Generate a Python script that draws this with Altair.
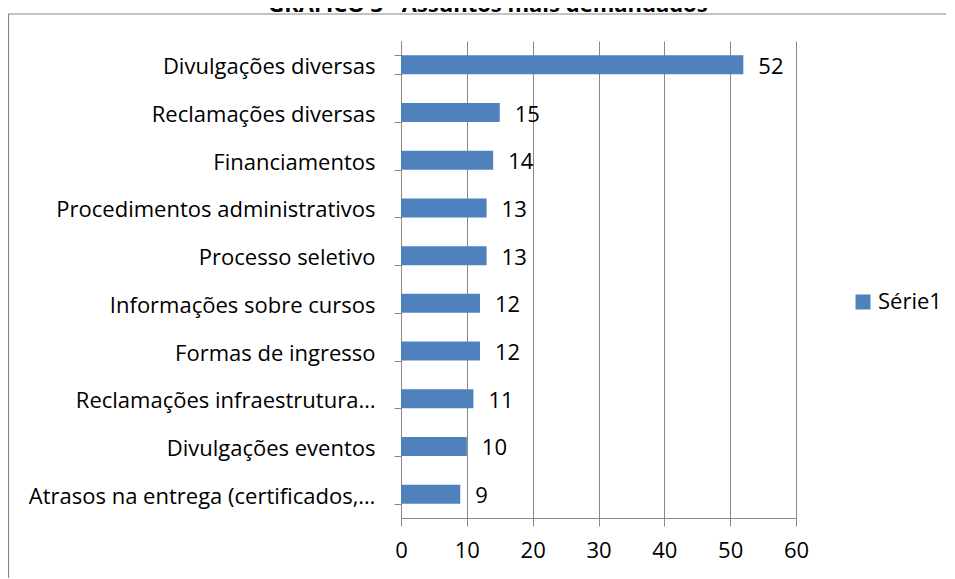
import altair as alt
import pandas as pd

TITLE = "GRÁFICO 3 - Assuntos mais demandados"
categories = [
    "Divulgações diversas",
    "Reclamações diversas",
    "Financiamentos",
    "Procedimentos administrativos",
    "Processo seletivo",
    "Informações sobre cursos",
    "Formas de ingresso",
    "Reclamações infraestrutura…",
    "Divulgações eventos",
    "Atrasos na entrega (certificados,…",
]
values = [52, 15, 14, 13, 13, 12, 12, 11, 10, 9]
series_name = "Série1"
x_ticks = [0, 10, 20, 30, 40, 50, 60]

FONT = "Open Sans"
FS = 22
GRID = "#888888"
BAR = "#4F81BD"

df = pd.DataFrame({"cat": categories, "val": values, "serie": [series_name] * len(values)})

y_enc = alt.Y(
    "cat:N",
    sort=categories,
    scale=alt.Scale(paddingInner=0.6, paddingOuter=0.3),
    axis=alt.Axis(
        title=None,
        tickBand="extent",
        ticks=True,
        tickSize=7,
        tickColor=GRID,
        domainColor=GRID,
        labelPadding=19,
        labelFontSize=FS,
        labelFont=FONT,
        labelColor="#000000",
        labelLimit=420,
        labelBaseline="middle",
        labelOffset=2,
        grid=False,
    ),
)
x_enc = alt.X(
    "val:Q",
    scale=alt.Scale(domain=[0, 60], nice=False),
    axis=alt.Axis(
        title=None,
        values=x_ticks,
        tickSize=8,
        tickColor=GRID,
        domainColor=GRID,
        grid=True,
        gridColor=GRID,
        labelFlush=False,
        labelPadding=14,
        labelFontSize=FS,
        labelFont=FONT,
        labelColor="#000000",
    ),
)

bars = alt.Chart(df).mark_bar(size=19).encode(
    x=x_enc,
    y=y_enc,
    color=alt.Color(
        "serie:N",
        scale=alt.Scale(range=[BAR]),
        legend=alt.Legend(
            title=None,
            orient="none",
            legendX=451,
            legendY=250,
            symbolType="square",
            symbolSize=225,
            symbolStrokeWidth=0,
            labelFontSize=FS,
            labelFont=FONT,
            labelColor="#000000",
            padding=0,
            labelOffset=4,
        ),
    ),
)

labels = alt.Chart(df).mark_text(
    align="left", baseline="middle", dx=15, dy=2, fontSize=FS, font=FONT, color="#000000"
).encode(
    x=alt.X("val:Q"),
    y=alt.Y("cat:N", sort=categories),
    text="val:Q",
)

frame = alt.Chart(alt.Data(values=[{"a": 1}])).mark_rect(
    fill=None, stroke=GRID, strokeWidth=1.2
).encode(
    x=alt.value(-392.5),
    x2=alt.value(620),
    y=alt.value(-27),
    y2=alt.value(620),
)

title = alt.Chart(alt.Data(values=[{"t": TITLE}])).mark_text(
    align="center", baseline="alphabetic", fontSize=FS, fontWeight="bold", font=FONT, color="#000000"
).encode(
    x=alt.value(87),
    y=alt.value(-29),
    text="t:N",
)

chart = (
    alt.layer(frame, bars, labels, title)
    .properties(
        width=395,
        height=477,
        autosize=alt.AutoSizeParams(type="none"),
        padding={"left": 393, "top": 33, "right": 150, "bottom": 60},
    )
    .configure_view(stroke=None)
)

chart.save("out.html", embed_options={"renderer": "svg", "actions": False})
